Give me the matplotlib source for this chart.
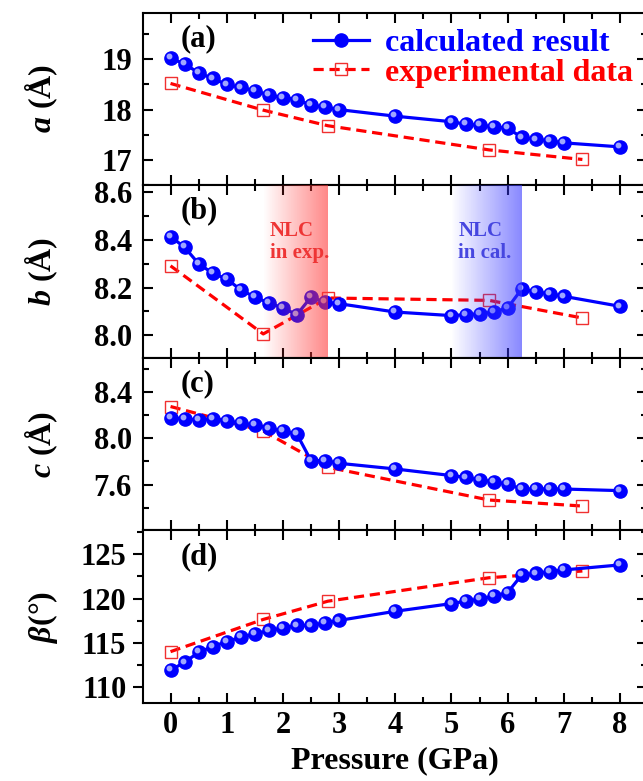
"""Lattice parameters a, b, c and beta versus pressure: calculation vs experiment."""

import matplotlib

matplotlib.use("Agg")
import matplotlib.pyplot as plt
import numpy as np
from matplotlib.ticker import FormatStrFormatter, MultipleLocator
from matplotlib.transforms import offset_copy

plt.rcParams["font.family"] = "serif"
plt.rcParams["font.serif"] = ["Liberation Serif", "DejaVu Serif"]
plt.rcParams["font.weight"] = "bold"
plt.rcParams["axes.labelweight"] = "bold"
plt.rcParams["mathtext.fontset"] = "custom"
plt.rcParams["mathtext.rm"] = "Liberation Serif:bold"
plt.rcParams["mathtext.it"] = "Liberation Serif:italic:bold"

# ---- data ----
pressure_calc = [0.0, 0.25, 0.5, 0.75, 1.0, 1.25, 1.5, 1.75, 2.0, 2.25, 2.5, 2.75,
                 3.0, 4.0, 5.0, 5.25, 5.5, 5.75, 6.0, 6.25, 6.5, 6.75, 7.0, 8.0]
pressure_exp = [0.0, 1.65, 2.8, 5.67, 7.33]

a_calc = [19.02, 18.91, 18.73, 18.62, 18.50, 18.44, 18.38, 18.29, 18.24, 18.20, 18.09, 18.05,
          18.00, 17.87, 17.76, 17.71, 17.69, 17.66, 17.63, 17.45, 17.41, 17.38, 17.34, 17.26]
a_exp = [18.52, 17.99, 17.68, 17.20, 17.01]

b_calc = [8.414, 8.369, 8.300, 8.260, 8.236, 8.190, 8.160, 8.135, 8.114, 8.086, 8.160, 8.138,
          8.132, 8.097, 8.082, 8.086, 8.089, 8.097, 8.114, 8.194, 8.181, 8.174, 8.163, 8.121]
b_exp = [8.291, 8.005, 8.156, 8.146, 8.072]

c_calc = [8.179, 8.167, 8.158, 8.167, 8.150, 8.130, 8.115, 8.086, 8.063, 8.035, 7.807, 7.807,
          7.784, 7.735, 7.678, 7.663, 7.640, 7.626, 7.603, 7.562, 7.562, 7.562, 7.562, 7.548]
c_exp = [8.274, 8.063, 7.750, 7.467, 7.415]

beta_calc = [111.91, 112.79, 113.93, 114.57, 115.14, 115.63, 116.01, 116.39, 116.66, 116.96,
             116.96, 117.27, 117.53, 118.56, 119.43, 119.70, 119.93, 120.27, 120.68, 122.66,
             122.85, 123.04, 123.23, 123.80]
beta_exp = [114.0, 117.64, 119.70, 122.35, 123.11]

# pressure windows of the negative linear compressibility (panel b)
nlc_exp = (1.65, 2.8)
nlc_cal = (5.0, 6.25)

BLUE = "#0000ff"
RED = "#ff0000"


def gradient_band(ax, x0, x1, rgb, amax):
    grad = np.zeros((1, 256, 4))
    grad[..., :3] = rgb
    grad[..., 3] = np.linspace(0.0, amax, 256)
    y0, y1 = ax.get_ylim()
    ax.imshow(grad, extent=(x0, x1, y0, y1), aspect="auto", interpolation="bilinear",
              zorder=5)


def main() -> None:
    fig = plt.figure(figsize=(6.43, 7.81), dpi=100)
    W, H = 643.0, 781.0
    left, right, top, bottom = 143.0, 647.0, 12.5, 703.0
    ph = (bottom - top) / 4

    panels = [
        ("(a)", a_calc, a_exp, (16.5, 19.93), 1.0, 0.5, "%d", "$a$ (Å)"),
        ("(b)", b_calc, b_exp, (7.905, 8.63), 0.2, 0.1, "%.1f", "$b$ (Å)"),
        ("(c)", c_calc, c_exp, (7.205, 8.695), 0.4, 0.2, "%.1f", "$c$ (Å)"),
        ("(d)", beta_calc, beta_exp, (108.2, 127.7), 5.0, 2.5, "%d", r"$\beta$(°)"),
    ]

    axes = []
    for i, (tag, calc, exp, ylim, major, minor, fmt, ylabel) in enumerate(panels):
        y_top = top + i * ph
        ax = fig.add_axes([left / W, 1 - (y_top + ph) / H, (right - left) / W, ph / H])
        axes.append(ax)

        ax.plot(pressure_exp, exp, color=RED, lw=2.3, dashes=(3.2, 1.8), marker="s",
                ms=8.5, mfc="none", mec="#f03030", mew=1.0, zorder=2,
                label="experimental data")
        ax.plot(pressure_calc, calc, color=BLUE, lw=2.3, marker="o", ms=9.5, mfc=BLUE,
                mec=BLUE, zorder=3, label="calculated result")
        # small highlight to give the spheres some depth
        hl = offset_copy(ax.transData, fig=fig, x=-1.3, y=1.3, units="points")
        ax.plot(pressure_calc, calc, ls="none", marker="o", ms=3.2, color="#9fa6ff",
                transform=hl, zorder=4)

        ax.set_xlim(-0.49, 8.48)
        ax.set_ylim(*ylim)
        ax.xaxis.set_major_locator(MultipleLocator(1))
        ax.xaxis.set_minor_locator(MultipleLocator(0.5))
        ax.yaxis.set_major_locator(MultipleLocator(major))
        ax.yaxis.set_minor_locator(MultipleLocator(minor))
        ax.yaxis.set_major_formatter(FormatStrFormatter(fmt))

        ax.tick_params(which="both", direction="in", top=True, right=True, width=1.5,
                       labelsize=22)
        ax.tick_params(which="major", length=7)
        ax.tick_params(which="minor", length=4)
        ax.tick_params(axis="y", pad=8)
        ax.tick_params(axis="x", pad=6)
        if tag == "(d)":
            # left ticks point outward here; right ones stay inward
            ax.tick_params(axis="y", which="both", direction="out", right=False, pad=5)
            sec = ax.secondary_yaxis("right")
            sec.yaxis.set_major_locator(MultipleLocator(major))
            sec.yaxis.set_minor_locator(MultipleLocator(minor))
            sec.tick_params(which="both", direction="in", width=1.5, labelright=False)
            sec.tick_params(which="major", length=7)
            sec.tick_params(which="minor", length=4)
        else:
            ax.tick_params(axis="x", labelbottom=False)
        for sp in ax.spines.values():
            sp.set_linewidth(1.5)

        ax.set_ylabel(ylabel, fontsize=23)
        ax.yaxis.set_label_coords(-0.165, 0.5)
        ax.text(0.075, 0.85, tag, transform=ax.transAxes, fontsize=22, ha="left",
                va="center", zorder=10)

    ax_a, ax_b, ax_c, ax_d = axes

    ax_a.legend(handles=ax_a.lines[1::-1], loc="center left",
                bbox_to_anchor=(0.337, 0.736), frameon=False, fontsize=23,
                handlelength=1.75, handletextpad=0.5, labelspacing=0.01,
                borderpad=0, borderaxespad=0, labelcolor="linecolor")

    # shaded NLC windows in panel (b)
    gradient_band(ax_b, *nlc_exp, (1.0, 0.22, 0.22), 0.6)
    gradient_band(ax_b, *nlc_cal, (0.22, 0.22, 1.0), 0.6)
    ax_b.set_xlim(-0.49, 8.48)
    ax_b.set_ylim(7.905, 8.63)
    ax_b.text(nlc_exp[0] + 0.12, 8.39, "NLC\nin exp.", color="#ee3535", fontsize=15,
              ha="left", va="center", linespacing=1.15, zorder=10)
    ax_b.text(nlc_cal[0] + 0.12, 8.39, "NLC\nin cal.", color="#4646e0", fontsize=15,
              ha="left", va="center", linespacing=1.15, zorder=10)

    ax_d.set_xlabel("Pressure (GPa)", fontsize=23, labelpad=4)

    fig.savefig("out.png", dpi=100)


if __name__ == "__main__":
    main()
